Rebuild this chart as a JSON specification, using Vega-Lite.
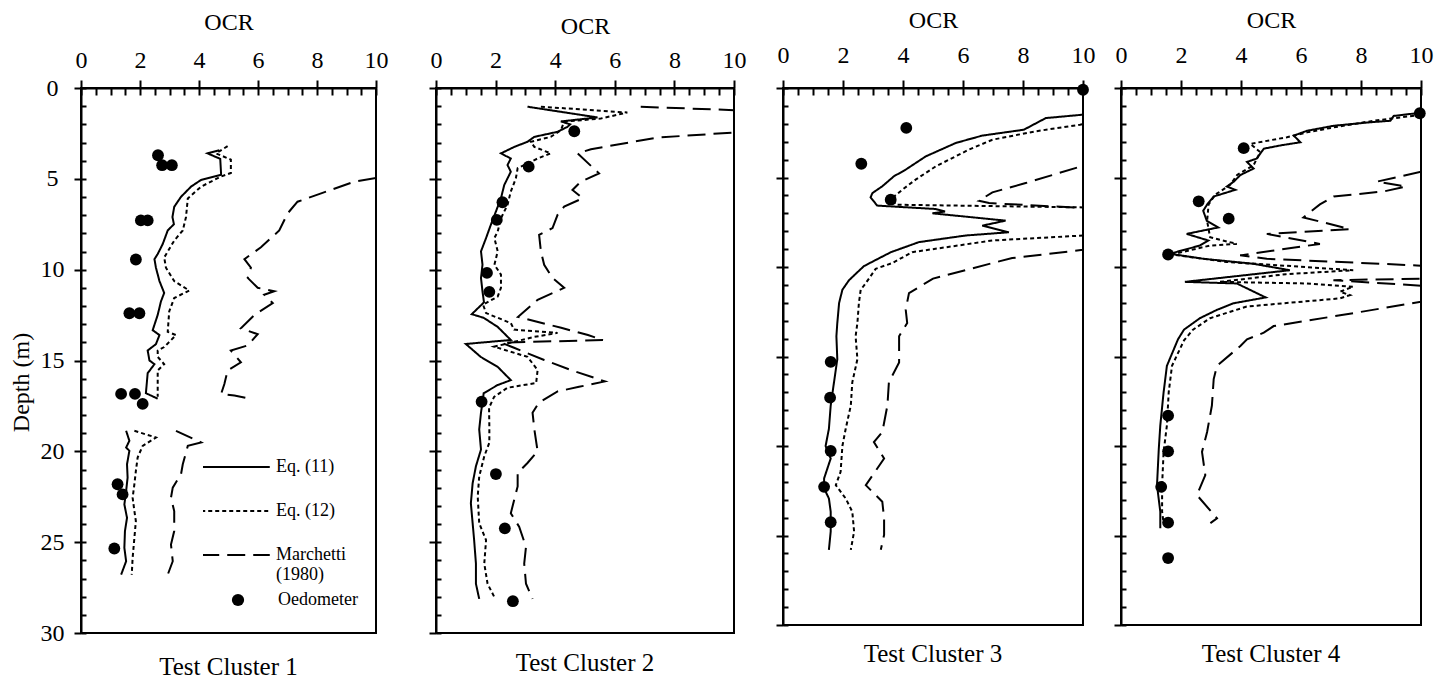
{
  "$schema": "https://vega.github.io/schema/vega-lite/v6.json",
  "background": "white",
  "padding": {"left": 8, "top": 7, "right": 0, "bottom": 0},
  "spacing": 10,
  "config": {
    "font": "Liberation Serif",
    "view": {"stroke": "black", "strokeWidth": 2},
    "axis": {"labelFont": "Liberation Serif", "titleFont": "Liberation Serif", "labelFontSize": 24, "titleFontSize": 24, "titleFontWeight": "normal", "labelColor": "black", "titleColor": "black", "domainColor": "black", "tickColor": "black", "domainWidth": 2, "tickWidth": 2, "grid": false, "labelFlush": false, "labelOverlap": false},
    "title": {"font": "Liberation Serif", "fontSize": 25, "fontWeight": "normal", "color": "black"}
  },
  "datasets": {
    "c1": [
      {"m":"Eq. (11)","s":1,"d":3.42,"o":4.69},{"m":"Eq. (11)","s":1,"d":3.6,"o":4.29},{"m":"Eq. (11)","s":1,"d":3.9,"o":4.72},{"m":"Eq. (11)","s":1,"d":4.78,"o":4.75},{"m":"Eq. (11)","s":1,"d":5.06,"o":4.07},{"m":"Eq. (11)","s":1,"d":5.43,"o":3.73},{"m":"Eq. (11)","s":1,"d":5.99,"o":3.39},{"m":"Eq. (11)","s":1,"d":6.54,"o":3.16},{"m":"Eq. (11)","s":1,"d":7.1,"o":3.1},{"m":"Eq. (11)","s":1,"d":7.5,"o":3.15},{"m":"Eq. (11)","s":1,"d":7.84,"o":2.94},{"m":"Eq. (11)","s":1,"d":8.59,"o":2.77},{"m":"Eq. (11)","s":1,"d":9.14,"o":2.6},{"m":"Eq. (11)","s":1,"d":9.42,"o":2.49},{"m":"Eq. (11)","s":1,"d":9.89,"o":2.54},{"m":"Eq. (11)","s":1,"d":10.63,"o":2.66},{"m":"Eq. (11)","s":1,"d":11.28,"o":2.82},{"m":"Eq. (11)","s":1,"d":11.75,"o":2.71},{"m":"Eq. (11)","s":1,"d":12.49,"o":2.6},{"m":"Eq. (11)","s":1,"d":13.33,"o":2.43},{"m":"Eq. (11)","s":1,"d":13.6,"o":2.66},{"m":"Eq. (11)","s":1,"d":14.1,"o":2.54},{"m":"Eq. (11)","s":1,"d":14.45,"o":2.26},{"m":"Eq. (11)","s":1,"d":15.0,"o":2.32},{"m":"Eq. (11)","s":1,"d":15.2,"o":2.49},{"m":"Eq. (11)","s":1,"d":15.7,"o":2.26},{"m":"Eq. (11)","s":1,"d":16.8,"o":2.2},{"m":"Eq. (11)","s":1,"d":17.1,"o":2.6},
      {"m":"Eq. (11)","s":2,"d":18.87,"o":1.53},{"m":"Eq. (11)","s":2,"d":19.42,"o":1.64},{"m":"Eq. (11)","s":2,"d":19.79,"o":1.53},{"m":"Eq. (11)","s":2,"d":19.97,"o":1.64},{"m":"Eq. (11)","s":2,"d":20.71,"o":1.56},{"m":"Eq. (11)","s":2,"d":21.45,"o":1.58},{"m":"Eq. (11)","s":2,"d":22.18,"o":1.53},{"m":"Eq. (11)","s":2,"d":22.92,"o":1.47},{"m":"Eq. (11)","s":2,"d":23.66,"o":1.56},{"m":"Eq. (11)","s":2,"d":24.39,"o":1.49},{"m":"Eq. (11)","s":2,"d":25.31,"o":1.47},{"m":"Eq. (11)","s":2,"d":26.05,"o":1.53},{"m":"Eq. (11)","s":2,"d":26.79,"o":1.36},
      {"m":"Eq. (12)","s":1,"d":3.2,"o":4.97},{"m":"Eq. (12)","s":1,"d":3.6,"o":4.58},{"m":"Eq. (12)","s":1,"d":3.94,"o":5.08},{"m":"Eq. (12)","s":1,"d":4.68,"o":5.08},{"m":"Eq. (12)","s":1,"d":4.87,"o":4.75},{"m":"Eq. (12)","s":1,"d":5.43,"o":4.07},{"m":"Eq. (12)","s":1,"d":6.08,"o":3.62},{"m":"Eq. (12)","s":1,"d":7.1,"o":3.56},{"m":"Eq. (12)","s":1,"d":7.84,"o":3.45},{"m":"Eq. (12)","s":1,"d":8.4,"o":3.16},{"m":"Eq. (12)","s":1,"d":9.33,"o":2.82},{"m":"Eq. (12)","s":1,"d":9.89,"o":2.88},{"m":"Eq. (12)","s":1,"d":10.63,"o":3.16},{"m":"Eq. (12)","s":1,"d":11.15,"o":3.67},{"m":"Eq. (12)","s":1,"d":11.56,"o":3.16},{"m":"Eq. (12)","s":1,"d":12.3,"o":2.99},{"m":"Eq. (12)","s":1,"d":13.42,"o":2.94},{"m":"Eq. (12)","s":1,"d":13.6,"o":3.22},{"m":"Eq. (12)","s":1,"d":14.26,"o":2.82},{"m":"Eq. (12)","s":1,"d":14.45,"o":2.6},{"m":"Eq. (12)","s":1,"d":14.8,"o":2.6},{"m":"Eq. (12)","s":1,"d":15.2,"o":2.82},{"m":"Eq. (12)","s":1,"d":15.55,"o":2.6},{"m":"Eq. (12)","s":1,"d":17.0,"o":2.6},
      {"m":"Eq. (12)","s":2,"d":18.87,"o":1.81},{"m":"Eq. (12)","s":2,"d":19.24,"o":2.54},{"m":"Eq. (12)","s":2,"d":19.7,"o":2.09},{"m":"Eq. (12)","s":2,"d":20.34,"o":1.92},{"m":"Eq. (12)","s":2,"d":21.08,"o":1.86},{"m":"Eq. (12)","s":2,"d":21.81,"o":1.81},{"m":"Eq. (12)","s":2,"d":22.55,"o":1.75},{"m":"Eq. (12)","s":2,"d":23.29,"o":1.81},{"m":"Eq. (12)","s":2,"d":23.84,"o":1.86},{"m":"Eq. (12)","s":2,"d":24.76,"o":1.81},{"m":"Eq. (12)","s":2,"d":25.87,"o":1.75},{"m":"Eq. (12)","s":2,"d":26.79,"o":1.72},
      {"m":"Marchetti (1980)","s":1,"d":4.96,"o":10},{"m":"Marchetti (1980)","s":1,"d":5.15,"o":9.27},{"m":"Marchetti (1980)","s":1,"d":5.8,"o":8.14},{"m":"Marchetti (1980)","s":1,"d":6.26,"o":7.34},{"m":"Marchetti (1980)","s":1,"d":6.91,"o":7.0},{"m":"Marchetti (1980)","s":1,"d":7.84,"o":6.72},{"m":"Marchetti (1980)","s":1,"d":8.77,"o":6.1},{"m":"Marchetti (1980)","s":1,"d":9.42,"o":5.54},{"m":"Marchetti (1980)","s":1,"d":9.89,"o":5.76},{"m":"Marchetti (1980)","s":1,"d":10.45,"o":5.65},{"m":"Marchetti (1980)","s":1,"d":11.0,"o":5.99},{"m":"Marchetti (1980)","s":1,"d":11.19,"o":6.55},{"m":"Marchetti (1980)","s":1,"d":11.38,"o":6.21},{"m":"Marchetti (1980)","s":1,"d":11.84,"o":6.5},{"m":"Marchetti (1980)","s":1,"d":12.49,"o":5.88},{"m":"Marchetti (1980)","s":1,"d":13.23,"o":5.42},{"m":"Marchetti (1980)","s":1,"d":13.55,"o":5.99},{"m":"Marchetti (1980)","s":1,"d":14.17,"o":5.65},{"m":"Marchetti (1980)","s":1,"d":14.45,"o":5.08},{"m":"Marchetti (1980)","s":1,"d":15.1,"o":5.42},{"m":"Marchetti (1980)","s":1,"d":15.55,"o":4.97},{"m":"Marchetti (1980)","s":1,"d":16.29,"o":4.86},{"m":"Marchetti (1980)","s":1,"d":16.84,"o":4.75},{"m":"Marchetti (1980)","s":1,"d":16.93,"o":5.2},{"m":"Marchetti (1980)","s":1,"d":17.12,"o":5.76},
      {"m":"Marchetti (1980)","s":2,"d":18.87,"o":3.22},{"m":"Marchetti (1980)","s":2,"d":19.51,"o":4.07},{"m":"Marchetti (1980)","s":2,"d":19.7,"o":3.62},{"m":"Marchetti (1980)","s":2,"d":20.71,"o":3.45},{"m":"Marchetti (1980)","s":2,"d":21.26,"o":3.39},{"m":"Marchetti (1980)","s":2,"d":22.0,"o":3.11},{"m":"Marchetti (1980)","s":2,"d":22.55,"o":3.05},{"m":"Marchetti (1980)","s":2,"d":23.29,"o":3.16},{"m":"Marchetti (1980)","s":2,"d":24.39,"o":3.16},{"m":"Marchetti (1980)","s":2,"d":25.13,"o":3.05},{"m":"Marchetti (1980)","s":2,"d":26.05,"o":3.11},{"m":"Marchetti (1980)","s":2,"d":26.79,"o":2.94},
      {"m":"Oedometer","s":0,"d":3.7,"o":2.61},{"m":"Oedometer","s":0,"d":4.25,"o":2.75},{"m":"Oedometer","s":0,"d":4.25,"o":3.08},{"m":"Oedometer","s":0,"d":7.29,"o":2.03},{"m":"Oedometer","s":0,"d":7.29,"o":2.26},{"m":"Oedometer","s":0,"d":9.44,"o":1.86},{"m":"Oedometer","s":0,"d":12.4,"o":1.64},{"m":"Oedometer","s":0,"d":12.4,"o":1.98},{"m":"Oedometer","s":0,"d":16.84,"o":1.36},{"m":"Oedometer","s":0,"d":16.84,"o":1.83},{"m":"Oedometer","s":0,"d":17.39,"o":2.09},{"m":"Oedometer","s":0,"d":21.81,"o":1.24},{"m":"Oedometer","s":0,"d":22.37,"o":1.41},{"m":"Oedometer","s":0,"d":25.35,"o":1.13}
    ],
    "c2": [
      {"m":"Eq. (11)","d":1.03,"o":3.07},{"m":"Eq. (11)","d":1.62,"o":5.42},{"m":"Eq. (11)","d":1.84,"o":4.19},{"m":"Eq. (11)","d":2.0,"o":4.5},{"m":"Eq. (11)","d":2.14,"o":4.41},{"m":"Eq. (11)","d":2.41,"o":4.08},{"m":"Eq. (11)","d":2.69,"o":3.3},{"m":"Eq. (11)","d":2.96,"o":3.07},{"m":"Eq. (11)","d":3.24,"o":2.63},{"m":"Eq. (11)","d":3.6,"o":2.18},{"m":"Eq. (11)","d":3.88,"o":2.51},{"m":"Eq. (11)","d":4.24,"o":2.4},{"m":"Eq. (11)","d":4.61,"o":2.51},{"m":"Eq. (11)","d":5.34,"o":2.29},{"m":"Eq. (11)","d":6.07,"o":2.18},{"m":"Eq. (11)","d":6.8,"o":2.01},{"m":"Eq. (11)","d":7.53,"o":1.84},{"m":"Eq. (11)","d":8.26,"o":1.68},{"m":"Eq. (11)","d":8.99,"o":1.51},{"m":"Eq. (11)","d":9.73,"o":1.56},{"m":"Eq. (11)","d":10.46,"o":1.51},{"m":"Eq. (11)","d":11.19,"o":1.56},{"m":"Eq. (11)","d":11.8,"o":1.61},{"m":"Eq. (11)","d":12.45,"o":1.2},{"m":"Eq. (11)","d":12.65,"o":1.6},{"m":"Eq. (11)","d":13.15,"o":2.07},{"m":"Eq. (11)","d":13.87,"o":2.51},{"m":"Eq. (11)","d":14.09,"o":1.0},{"m":"Eq. (11)","d":14.8,"o":1.5},{"m":"Eq. (11)","d":15.35,"o":2.07},{"m":"Eq. (11)","d":16.08,"o":2.51},{"m":"Eq. (11)","d":16.35,"o":2.07},{"m":"Eq. (11)","d":16.8,"o":1.6},{"m":"Eq. (11)","d":17.3,"o":1.56},{"m":"Eq. (11)","d":17.87,"o":1.51},{"m":"Eq. (11)","d":18.79,"o":1.45},{"m":"Eq. (11)","d":19.9,"o":1.51},{"m":"Eq. (11)","d":20.82,"o":1.34},{"m":"Eq. (11)","d":21.75,"o":1.23},{"m":"Eq. (11)","d":22.86,"o":1.17},{"m":"Eq. (11)","d":23.96,"o":1.23},{"m":"Eq. (11)","d":24.89,"o":1.28},{"m":"Eq. (11)","d":26.18,"o":1.34},{"m":"Eq. (11)","d":27.29,"o":1.34},{"m":"Eq. (11)","d":28.12,"o":1.45},
      {"m":"Eq. (12)","d":1.03,"o":3.52},{"m":"Eq. (12)","d":1.35,"o":6.42},{"m":"Eq. (12)","d":1.68,"o":5.53},{"m":"Eq. (12)","d":1.85,"o":4.3},{"m":"Eq. (12)","d":2.32,"o":4.19},{"m":"Eq. (12)","d":2.69,"o":3.85},{"m":"Eq. (12)","d":2.96,"o":3.18},{"m":"Eq. (12)","d":3.24,"o":3.3},{"m":"Eq. (12)","d":3.6,"o":3.85},{"m":"Eq. (12)","d":3.88,"o":3.41},{"m":"Eq. (12)","d":4.42,"o":2.74},{"m":"Eq. (12)","d":4.97,"o":2.68},{"m":"Eq. (12)","d":5.7,"o":2.51},{"m":"Eq. (12)","d":6.43,"o":2.4},{"m":"Eq. (12)","d":7.17,"o":2.18},{"m":"Eq. (12)","d":7.9,"o":2.07},{"m":"Eq. (12)","d":8.26,"o":1.96},{"m":"Eq. (12)","d":8.99,"o":2.07},{"m":"Eq. (12)","d":9.73,"o":1.96},{"m":"Eq. (12)","d":10.27,"o":2.18},{"m":"Eq. (12)","d":11.0,"o":2.18},{"m":"Eq. (12)","d":11.48,"o":2.07},{"m":"Eq. (12)","d":11.93,"o":1.58},{"m":"Eq. (12)","d":12.39,"o":1.68},{"m":"Eq. (12)","d":12.94,"o":2.51},{"m":"Eq. (12)","d":13.3,"o":2.62},{"m":"Eq. (12)","d":13.48,"o":4.08},{"m":"Eq. (12)","d":13.7,"o":3.3},{"m":"Eq. (12)","d":14.24,"o":1.95},{"m":"Eq. (12)","d":14.8,"o":3.07},{"m":"Eq. (12)","d":15.52,"o":3.41},{"m":"Eq. (12)","d":16.24,"o":3.36},{"m":"Eq. (12)","d":16.5,"o":2.4},{"m":"Eq. (12)","d":17.0,"o":1.95},{"m":"Eq. (12)","d":17.6,"o":1.78},{"m":"Eq. (12)","d":18.6,"o":1.79},{"m":"Eq. (12)","d":19.53,"o":1.79},{"m":"Eq. (12)","d":20.27,"o":1.62},{"m":"Eq. (12)","d":21.38,"o":1.45},{"m":"Eq. (12)","d":22.49,"o":1.4},{"m":"Eq. (12)","d":23.96,"o":1.45},{"m":"Eq. (12)","d":24.89,"o":1.68},{"m":"Eq. (12)","d":26.18,"o":1.62},{"m":"Eq. (12)","d":27.29,"o":1.73},{"m":"Eq. (12)","d":28.03,"o":1.96},
      {"m":"Marchetti (1980)","d":1.03,"o":6.87},{"m":"Marchetti (1980)","d":1.25,"o":10.5},{"m":"Marchetti (1980)","d":1.6,"o":13},{"m":"Marchetti (1980)","d":2.2,"o":13},{"m":"Marchetti (1980)","d":2.45,"o":10},{"m":"Marchetti (1980)","d":2.73,"o":7.43},{"m":"Marchetti (1980)","d":3.37,"o":5.2},{"m":"Marchetti (1980)","d":3.6,"o":4.75},{"m":"Marchetti (1980)","d":4.7,"o":5.47},{"m":"Marchetti (1980)","d":5.16,"o":4.86},{"m":"Marchetti (1980)","d":5.61,"o":4.58},{"m":"Marchetti (1980)","d":6.07,"o":4.92},{"m":"Marchetti (1980)","d":6.53,"o":4.3},{"m":"Marchetti (1980)","d":6.98,"o":4.08},{"m":"Marchetti (1980)","d":7.71,"o":3.91},{"m":"Marchetti (1980)","d":8.08,"o":3.46},{"m":"Marchetti (1980)","d":8.99,"o":3.52},{"m":"Marchetti (1980)","d":9.73,"o":3.63},{"m":"Marchetti (1980)","d":10.46,"o":3.91},{"m":"Marchetti (1980)","d":11.0,"o":4.3},{"m":"Marchetti (1980)","d":11.66,"o":3.41},{"m":"Marchetti (1980)","d":12.3,"o":2.96},{"m":"Marchetti (1980)","d":12.6,"o":2.75},{"m":"Marchetti (1980)","d":13.2,"o":4.2},{"m":"Marchetti (1980)","d":13.6,"o":5.1},{"m":"Marchetti (1980)","d":13.87,"o":5.6},{"m":"Marchetti (1980)","d":14.02,"o":2.2},{"m":"Marchetti (1980)","d":14.3,"o":2.62},{"m":"Marchetti (1980)","d":14.97,"o":3.63},{"m":"Marchetti (1980)","d":15.52,"o":4.52},{"m":"Marchetti (1980)","d":16.15,"o":5.67},{"m":"Marchetti (1980)","d":16.45,"o":4.8},{"m":"Marchetti (1980)","d":16.7,"o":4.08},{"m":"Marchetti (1980)","d":17.33,"o":3.45},{"m":"Marchetti (1980)","d":17.87,"o":3.24},{"m":"Marchetti (1980)","d":18.79,"o":3.3},{"m":"Marchetti (1980)","d":20.0,"o":3.41},{"m":"Marchetti (1980)","d":20.64,"o":3.07},{"m":"Marchetti (1980)","d":21.19,"o":2.74},{"m":"Marchetti (1980)","d":21.93,"o":2.74},{"m":"Marchetti (1980)","d":23.41,"o":2.51},{"m":"Marchetti (1980)","d":24.15,"o":2.79},{"m":"Marchetti (1980)","d":25.26,"o":3.02},{"m":"Marchetti (1980)","d":26.18,"o":2.96},{"m":"Marchetti (1980)","d":27.29,"o":3.02},{"m":"Marchetti (1980)","d":28.12,"o":3.24},
      {"m":"Oedometer","d":2.38,"o":4.64},{"m":"Oedometer","d":4.33,"o":3.11},{"m":"Oedometer","d":6.29,"o":2.23},{"m":"Oedometer","d":7.26,"o":2.04},{"m":"Oedometer","d":10.18,"o":1.71},{"m":"Oedometer","d":11.22,"o":1.79},{"m":"Oedometer","d":17.27,"o":1.53},{"m":"Oedometer","d":21.25,"o":2.01},{"m":"Oedometer","d":24.24,"o":2.31},{"m":"Oedometer","d":28.25,"o":2.58}
    ],
    "c3": [
      {"m":"Eq. (11)","d":1.49,"o":10},{"m":"Eq. (11)","d":1.68,"o":8.76},{"m":"Eq. (11)","d":2.33,"o":8.03},{"m":"Eq. (11)","d":2.66,"o":6.64},{"m":"Eq. (11)","d":3.07,"o":5.76},{"m":"Eq. (11)","d":3.82,"o":4.76},{"m":"Eq. (11)","d":4.56,"o":4.09},{"m":"Eq. (11)","d":4.93,"o":3.7},{"m":"Eq. (11)","d":5.49,"o":3.31},{"m":"Eq. (11)","d":5.87,"o":2.98},{"m":"Eq. (11)","d":6.11,"o":2.92},{"m":"Eq. (11)","d":6.57,"o":3.14},{"m":"Eq. (11)","d":6.76,"o":5.09},{"m":"Eq. (11)","d":6.9,"o":5.4},{"m":"Eq. (11)","d":7.0,"o":4.98},{"m":"Eq. (11)","d":7.41,"o":7.42},{"m":"Eq. (11)","d":7.69,"o":6.64},{"m":"Eq. (11)","d":8.06,"o":7.53},{"m":"Eq. (11)","d":8.24,"o":6.09},{"m":"Eq. (11)","d":8.61,"o":4.53},{"m":"Eq. (11)","d":9.17,"o":3.6},{"m":"Eq. (11)","d":9.6,"o":3.1},{"m":"Eq. (11)","d":9.95,"o":2.7},{"m":"Eq. (11)","d":10.34,"o":2.45},{"m":"Eq. (11)","d":10.74,"o":2.2},{"m":"Eq. (11)","d":11.27,"o":1.98},{"m":"Eq. (11)","d":12.01,"o":1.87},{"m":"Eq. (11)","d":13.13,"o":1.81},{"m":"Eq. (11)","d":13.87,"o":1.78},{"m":"Eq. (11)","d":15.15,"o":1.81},{"m":"Eq. (11)","d":16.44,"o":1.7},{"m":"Eq. (11)","d":17.74,"o":1.59},{"m":"Eq. (11)","d":19.04,"o":1.53},{"m":"Eq. (11)","d":20.0,"o":1.42},{"m":"Eq. (11)","d":20.7,"o":1.59},{"m":"Eq. (11)","d":21.81,"o":1.37},{"m":"Eq. (11)","d":22.37,"o":1.37},{"m":"Eq. (11)","d":22.93,"o":1.53},{"m":"Eq. (11)","d":23.67,"o":1.59},{"m":"Eq. (11)","d":24.78,"o":1.59},{"m":"Eq. (11)","d":25.8,"o":1.53},
      {"m":"Eq. (12)","d":1.95,"o":10.2},{"m":"Eq. (12)","d":2.05,"o":9.9},{"m":"Eq. (12)","d":2.42,"o":8.42},{"m":"Eq. (12)","d":2.89,"o":6.98},{"m":"Eq. (12)","d":3.44,"o":6.2},{"m":"Eq. (12)","d":4.38,"o":5.09},{"m":"Eq. (12)","d":5.12,"o":4.42},{"m":"Eq. (12)","d":5.68,"o":3.98},{"m":"Eq. (12)","d":6.15,"o":3.64},{"m":"Eq. (12)","d":6.52,"o":3.76},{"m":"Eq. (12)","d":6.67,"o":10},{"m":"Eq. (12)","d":7.4,"o":14},{"m":"Eq. (12)","d":8.24,"o":10},{"m":"Eq. (12)","d":8.52,"o":6.98},{"m":"Eq. (12)","d":9.17,"o":4.31},{"m":"Eq. (12)","d":9.78,"o":3.64},{"m":"Eq. (12)","d":10.1,"o":3.09},{"m":"Eq. (12)","d":10.9,"o":2.76},{"m":"Eq. (12)","d":11.27,"o":2.59},{"m":"Eq. (12)","d":12.01,"o":2.53},{"m":"Eq. (12)","d":13.13,"o":2.48},{"m":"Eq. (12)","d":13.87,"o":2.42},{"m":"Eq. (12)","d":15.15,"o":2.48},{"m":"Eq. (12)","d":16.44,"o":2.31},{"m":"Eq. (12)","d":17.74,"o":2.26},{"m":"Eq. (12)","d":19.04,"o":2.09},{"m":"Eq. (12)","d":20.0,"o":1.98},{"m":"Eq. (12)","d":21.44,"o":1.92},{"m":"Eq. (12)","d":22.19,"o":1.76},{"m":"Eq. (12)","d":22.93,"o":2.09},{"m":"Eq. (12)","d":23.67,"o":2.31},{"m":"Eq. (12)","d":24.78,"o":2.37},{"m":"Eq. (12)","d":25.8,"o":2.26},
      {"m":"Marchetti (1980)","d":4.45,"o":9.8},{"m":"Marchetti (1980)","d":5.31,"o":8.09},{"m":"Marchetti (1980)","d":5.83,"o":6.98},{"m":"Marchetti (1980)","d":6.3,"o":6.53},{"m":"Marchetti (1980)","d":6.43,"o":6.87},{"m":"Marchetti (1980)","d":6.7,"o":10},{"m":"Marchetti (1980)","d":7.8,"o":14},{"m":"Marchetti (1980)","d":9.04,"o":10},{"m":"Marchetti (1980)","d":9.5,"o":7.64},{"m":"Marchetti (1980)","d":9.78,"o":6.98},{"m":"Marchetti (1980)","d":10.65,"o":5.0},{"m":"Marchetti (1980)","d":11.46,"o":4.2},{"m":"Marchetti (1980)","d":12.38,"o":4.09},{"m":"Marchetti (1980)","d":13.13,"o":4.14},{"m":"Marchetti (1980)","d":13.87,"o":3.87},{"m":"Marchetti (1980)","d":15.33,"o":3.87},{"m":"Marchetti (1980)","d":16.44,"o":3.53},{"m":"Marchetti (1980)","d":17.74,"o":3.48},{"m":"Marchetti (1980)","d":19.22,"o":3.31},{"m":"Marchetti (1980)","d":19.78,"o":3.03},{"m":"Marchetti (1980)","d":20.7,"o":3.37},{"m":"Marchetti (1980)","d":22.19,"o":2.76},{"m":"Marchetti (1980)","d":23.11,"o":3.31},{"m":"Marchetti (1980)","d":24.04,"o":3.37},{"m":"Marchetti (1980)","d":24.96,"o":3.37},{"m":"Marchetti (1980)","d":25.8,"o":3.26},
      {"m":"Oedometer","d":0.1,"o":10},{"m":"Oedometer","d":2.23,"o":4.11},{"m":"Oedometer","d":4.23,"o":2.61},{"m":"Oedometer","d":6.24,"o":3.59},{"m":"Oedometer","d":15.3,"o":1.59},{"m":"Oedometer","d":17.3,"o":1.57},{"m":"Oedometer","d":20.28,"o":1.59},{"m":"Oedometer","d":22.28,"o":1.37},{"m":"Oedometer","d":24.26,"o":1.59}
    ],
    "c4": [
      {"m":"Eq. (11)","d":1.38,"o":10},{"m":"Eq. (11)","d":1.56,"o":9.09},{"m":"Eq. (11)","d":1.83,"o":8.98},{"m":"Eq. (11)","d":1.93,"o":8.2},{"m":"Eq. (11)","d":2.11,"o":7.09},{"m":"Eq. (11)","d":2.39,"o":6.2},{"m":"Eq. (11)","d":2.66,"o":5.76},{"m":"Eq. (11)","d":3.03,"o":5.98},{"m":"Eq. (11)","d":3.21,"o":5.31},{"m":"Eq. (11)","d":3.39,"o":4.76},{"m":"Eq. (11)","d":3.67,"o":4.64},{"m":"Eq. (11)","d":3.94,"o":4.53},{"m":"Eq. (11)","d":4.13,"o":4.2},{"m":"Eq. (11)","d":4.5,"o":4.42},{"m":"Eq. (11)","d":4.86,"o":3.98},{"m":"Eq. (11)","d":5.23,"o":3.76},{"m":"Eq. (11)","d":5.5,"o":3.53},{"m":"Eq. (11)","d":5.69,"o":3.81},{"m":"Eq. (11)","d":6.06,"o":3.09},{"m":"Eq. (11)","d":6.51,"o":2.87},{"m":"Eq. (11)","d":6.86,"o":2.74},{"m":"Eq. (11)","d":7.42,"o":2.86},{"m":"Eq. (11)","d":7.79,"o":3.24},{"m":"Eq. (11)","d":8.15,"o":2.19},{"m":"Eq. (11)","d":8.52,"o":2.91},{"m":"Eq. (11)","d":8.8,"o":2.63},{"m":"Eq. (11)","d":9.26,"o":1.63},{"m":"Eq. (11)","d":9.54,"o":2.74},{"m":"Eq. (11)","d":9.82,"o":4.41},{"m":"Eq. (11)","d":10.18,"o":5.63},{"m":"Eq. (11)","d":10.83,"o":2.13},{"m":"Eq. (11)","d":10.92,"o":3.86},{"m":"Eq. (11)","d":11.7,"o":4.82},{"m":"Eq. (11)","d":12.03,"o":3.74},{"m":"Eq. (11)","d":12.4,"o":3.19},{"m":"Eq. (11)","d":12.86,"o":2.63},{"m":"Eq. (11)","d":13.5,"o":2.1},{"m":"Eq. (11)","d":14.04,"o":1.9},{"m":"Eq. (11)","d":15.52,"o":1.53},{"m":"Eq. (11)","d":17.0,"o":1.42},{"m":"Eq. (11)","d":18.85,"o":1.31},{"m":"Eq. (11)","d":20.15,"o":1.26},{"m":"Eq. (11)","d":22.19,"o":1.2},{"m":"Eq. (11)","d":23.67,"o":1.31},{"m":"Eq. (11)","d":24.59,"o":1.31},
      {"m":"Eq. (12)","d":1.5,"o":10},{"m":"Eq. (12)","d":1.83,"o":8.42},{"m":"Eq. (12)","d":2.2,"o":7.09},{"m":"Eq. (12)","d":2.48,"o":6.2},{"m":"Eq. (12)","d":2.75,"o":5.53},{"m":"Eq. (12)","d":3.12,"o":4.31},{"m":"Eq. (12)","d":3.58,"o":4.64},{"m":"Eq. (12)","d":4.31,"o":4.42},{"m":"Eq. (12)","d":4.86,"o":3.87},{"m":"Eq. (12)","d":5.41,"o":3.64},{"m":"Eq. (12)","d":5.96,"o":3.14},{"m":"Eq. (12)","d":6.51,"o":2.92},{"m":"Eq. (12)","d":7.43,"o":2.87},{"m":"Eq. (12)","d":8.34,"o":2.97},{"m":"Eq. (12)","d":8.71,"o":3.86},{"m":"Eq. (12)","d":8.8,"o":2.97},{"m":"Eq. (12)","d":9.3,"o":1.7},{"m":"Eq. (12)","d":9.72,"o":3.52},{"m":"Eq. (12)","d":9.91,"o":5.3},{"m":"Eq. (12)","d":10.18,"o":7.74},{"m":"Eq. (12)","d":10.4,"o":5.5},{"m":"Eq. (12)","d":10.83,"o":3.3},{"m":"Eq. (12)","d":10.92,"o":6.19},{"m":"Eq. (12)","d":11.1,"o":7.74},{"m":"Eq. (12)","d":11.38,"o":7.3},{"m":"Eq. (12)","d":11.57,"o":7.63},{"m":"Eq. (12)","d":11.75,"o":7.3},{"m":"Eq. (12)","d":12.21,"o":4.19},{"m":"Eq. (12)","d":12.86,"o":2.97},{"m":"Eq. (12)","d":13.5,"o":2.4},{"m":"Eq. (12)","d":14.1,"o":2.1},{"m":"Eq. (12)","d":15.52,"o":1.7},{"m":"Eq. (12)","d":17.0,"o":1.59},{"m":"Eq. (12)","d":18.85,"o":1.53},{"m":"Eq. (12)","d":20.33,"o":1.42},{"m":"Eq. (12)","d":22.19,"o":1.37},{"m":"Eq. (12)","d":23.67,"o":1.37},{"m":"Eq. (12)","d":24.31,"o":1.42},
      {"m":"Marchetti (1980)","d":4.68,"o":10},{"m":"Marchetti (1980)","d":5.23,"o":8.53},{"m":"Marchetti (1980)","d":5.5,"o":9.5},{"m":"Marchetti (1980)","d":5.78,"o":8.76},{"m":"Marchetti (1980)","d":6.06,"o":7.09},{"m":"Marchetti (1980)","d":6.5,"o":6.63},{"m":"Marchetti (1980)","d":7.23,"o":6.08},{"m":"Marchetti (1980)","d":7.88,"o":7.63},{"m":"Marchetti (1980)","d":8.15,"o":4.86},{"m":"Marchetti (1980)","d":8.71,"o":6.63},{"m":"Marchetti (1980)","d":9.35,"o":3.97},{"m":"Marchetti (1980)","d":9.54,"o":4.86},{"m":"Marchetti (1980)","d":9.91,"o":9.86},{"m":"Marchetti (1980)","d":10.2,"o":12},{"m":"Marchetti (1980)","d":10.65,"o":10},{"m":"Marchetti (1980)","d":10.74,"o":7.08},{"m":"Marchetti (1980)","d":11.1,"o":10.5},{"m":"Marchetti (1980)","d":11.5,"o":12},{"m":"Marchetti (1980)","d":11.94,"o":10},{"m":"Marchetti (1980)","d":12.58,"o":7.74},{"m":"Marchetti (1980)","d":13.3,"o":5.09},{"m":"Marchetti (1980)","d":13.67,"o":4.76},{"m":"Marchetti (1980)","d":14.04,"o":4.2},{"m":"Marchetti (1980)","d":14.41,"o":3.98},{"m":"Marchetti (1980)","d":15.52,"o":3.2},{"m":"Marchetti (1980)","d":16.26,"o":3.09},{"m":"Marchetti (1980)","d":17.74,"o":3.03},{"m":"Marchetti (1980)","d":19.22,"o":2.87},{"m":"Marchetti (1980)","d":20.33,"o":2.7},{"m":"Marchetti (1980)","d":21.63,"o":2.81},{"m":"Marchetti (1980)","d":22.74,"o":2.53},{"m":"Marchetti (1980)","d":24.04,"o":3.2},{"m":"Marchetti (1980)","d":24.31,"o":2.98},
      {"m":"Oedometer","d":1.41,"o":9.96},{"m":"Oedometer","d":3.36,"o":4.09},{"m":"Oedometer","d":6.33,"o":2.59},{"m":"Oedometer","d":7.3,"o":3.59},{"m":"Oedometer","d":9.3,"o":1.57},{"m":"Oedometer","d":18.3,"o":1.57},{"m":"Oedometer","d":20.3,"o":1.57},{"m":"Oedometer","d":22.28,"o":1.34},{"m":"Oedometer","d":24.28,"o":1.57},{"m":"Oedometer","d":26.26,"o":1.57}
    ]
  },
  "hconcat": [
    {
      "width": 295, "height": 545,
      "data": {"name": "c1"},
      "title": {"text": "Test Cluster 1", "orient": "bottom", "offset": 10, "frame": "group", "anchor": "middle"},
      "layer": [
        {
          "transform": [{"filter": "datum.m != 'Oedometer'"}],
          "mark": {"type": "line", "clip": true, "strokeWidth": 2, "color": "black"},
          "encoding": {
            "x": {"field": "o", "type": "quantitative", "scale": {"domain": [0, 10], "nice": false, "zero": false}, "axis": {"orient": "top", "values": [0, 2, 4, 6, 8, 10], "title": "OCR", "tickSize": 8, "labelPadding": 8, "titlePadding": 14}},
            "y": {"field": "d", "type": "quantitative", "scale": {"domain": [0, 30], "reverse": true, "nice": false}, "axis": {"values": [0, 5, 10, 15, 20, 25, 30], "title": "Depth (m)", "tickSize": 7, "labelAlign": "center", "labelPadding": 22, "titlePadding": 7, "titleY": 294}},
            "strokeDash": {"field": "m", "type": "nominal", "scale": {"domain": ["Eq. (11)", "Eq. (12)", "Marchetti (1980)"], "range": [[1, 0], [4, 3], [18, 8]]},
              "legend": {"orient": "none", "legendX": 122, "legendY": 367, "title": null, "symbolType": "stroke", "symbolSize": 4700, "symbolStrokeWidth": 2, "symbolStrokeColor": "black", "labelFont": "Liberation Serif", "labelFontSize": 18, "labelColor": "black", "labelOffset": 5, "symbolOffset": -3, "clipHeight": 24, "rowPadding": 20, "padding": 0,
                "labelExpr": "datum.value == 'Marchetti (1980)' ? ['Marchetti', '(1980)'] : datum.label",
                "encode": {
                  "symbols": {"update": {"shape": {"value": "stroke"}, "size": {"signal": "datum.value == 'Oedometer' ? 150 : 4700"}, "fill": {"value": "transparent"}, "strokeWidth": {"value": 2}, "stroke": {"value": "black"}}}
                }}},
            "detail": {"field": "s", "type": "nominal"},
            "order": {"field": "d", "type": "quantitative"}
          }
        },
        {
          "transform": [{"filter": "datum.m == 'Oedometer'"}],
          "mark": {"type": "point", "filled": true, "size": 140, "color": "black", "opacity": 1, "strokeWidth": 0},
          "encoding": {
            "x": {"field": "o", "type": "quantitative", "axis": {"orient": "top", "values": [0,0.5,1,1.5,2,2.5,3,3.5,4,4.5,5,5.5,6,6.5,7,7.5,8,8.5,9,9.5,10], "labels": false, "title": null, "domain": false, "tickSize": -7}},
            "y": {"field": "d", "type": "quantitative", "axis": {"orient": "left", "values": [0,1,2,3,4,5,6,7,8,9,10,11,12,13,14,15,16,17,18,19,20,21,22,23,24,25,26,27,28,29,30], "labels": false, "title": null, "domain": false, "tickSize": -5}},
            "shape": {"field": "m", "type": "nominal", "scale": {"domain": ["Oedometer"], "range": ["circle"]},
              "legend": {"orient": "none", "legendX": 122, "legendY": 503, "title": null, "symbolSize": 150, "symbolFillColor": "black", "symbolStrokeWidth": 0, "labelFont": "Liberation Serif", "labelFontSize": 18, "labelColor": "black", "labelOffset": 31, "symbolOffset": 26, "padding": 0}}
          }
        }
      ],
      "resolve": {"axis": {"x": "independent", "y": "independent"}}
    },
    {
      "width": 298, "height": 545,
      "data": {"name": "c2"},
      "title": {"text": "Test Cluster 2", "orient": "bottom", "offset": 17, "frame": "group", "anchor": "middle"},
      "layer": [
        {
          "transform": [{"filter": "datum.m != 'Oedometer'"}],
          "mark": {"type": "line", "clip": true, "strokeWidth": 2, "color": "black"},
          "encoding": {
            "x": {"field": "o", "type": "quantitative", "scale": {"domain": [0, 10], "nice": false, "zero": false}, "axis": {"orient": "top", "values": [0, 2, 4, 6, 8, 10], "title": "OCR", "tickSize": 8, "labelPadding": 8, "titlePadding": 10}},
            "y": {"field": "d", "type": "quantitative", "scale": {"domain": [0, 30], "reverse": true, "nice": false}, "axis": {"values": [0, 5, 10, 15, 20, 25, 30], "labels": false, "title": null, "tickSize": 7, "minExtent": 36}},
            "strokeDash": {"field": "m", "type": "nominal", "scale": {"domain": ["Eq. (11)", "Eq. (12)", "Marchetti (1980)"], "range": [[1, 0], [4, 3], [18, 8]]}, "legend": null},
            "order": {"field": "d", "type": "quantitative"}
          }
        },
        {
          "transform": [{"filter": "datum.m == 'Oedometer'"}],
          "mark": {"type": "point", "filled": true, "size": 140, "color": "black", "opacity": 1, "strokeWidth": 0},
          "encoding": {
            "x": {"field": "o", "type": "quantitative", "axis": {"orient": "top", "values": [0,0.5,1,1.5,2,2.5,3,3.5,4,4.5,5,5.5,6,6.5,7,7.5,8,8.5,9,9.5,10], "labels": false, "title": null, "domain": false, "tickSize": -7}},
            "y": {"field": "d", "type": "quantitative", "axis": {"orient": "left", "values": [0,1,2,3,4,5,6,7,8,9,10,11,12,13,14,15,16,17,18,19,20,21,22,23,24,25,26,27,28,29,30], "labels": false, "title": null, "domain": false, "tickSize": -5}}
          }
        }
      ],
      "resolve": {"axis": {"x": "independent", "y": "independent"}}
    },
    {
      "width": 300, "height": 537,
      "data": {"name": "c3"},
      "title": {"text": "Test Cluster 3", "orient": "bottom", "offset": 16, "frame": "group", "anchor": "middle"},
      "layer": [
        {
          "transform": [{"filter": "datum.m != 'Oedometer'"}],
          "mark": {"type": "line", "clip": true, "strokeWidth": 2, "color": "black"},
          "encoding": {
            "x": {"field": "o", "type": "quantitative", "scale": {"domain": [0, 10], "nice": false, "zero": false}, "axis": {"orient": "top", "values": [0, 2, 4, 6, 8, 10], "title": "OCR", "tickSize": 8, "labelPadding": 13, "titlePadding": 11}},
            "y": {"field": "d", "type": "quantitative", "scale": {"domain": [0, 30], "reverse": true, "nice": false}, "axis": {"values": [0, 5, 10, 15, 20, 25, 30], "labels": false, "title": null, "tickSize": 7, "minExtent": 25}},
            "strokeDash": {"field": "m", "type": "nominal", "scale": {"domain": ["Eq. (11)", "Eq. (12)", "Marchetti (1980)"], "range": [[1, 0], [4, 3], [18, 8]]}, "legend": null},
            "order": {"field": "d", "type": "quantitative"}
          }
        },
        {
          "transform": [{"filter": "datum.m == 'Oedometer'"}],
          "mark": {"type": "point", "filled": true, "size": 140, "color": "black", "opacity": 1, "strokeWidth": 0},
          "encoding": {
            "x": {"field": "o", "type": "quantitative", "axis": {"orient": "top", "values": [0,0.5,1,1.5,2,2.5,3,3.5,4,4.5,5,5.5,6,6.5,7,7.5,8,8.5,9,9.5,10], "labels": false, "title": null, "domain": false, "tickSize": -7}},
            "y": {"field": "d", "type": "quantitative", "axis": {"orient": "left", "values": [0,1,2,3,4,5,6,7,8,9,10,11,12,13,14,15,16,17,18,19,20,21,22,23,24,25,26,27,28,29,30], "labels": false, "title": null, "domain": false, "tickSize": -5}}
          }
        }
      ],
      "resolve": {"axis": {"x": "independent", "y": "independent"}}
    },
    {
      "width": 300, "height": 537,
      "data": {"name": "c4"},
      "title": {"text": "Test Cluster 4", "orient": "bottom", "offset": 16, "frame": "group", "anchor": "middle"},
      "layer": [
        {
          "transform": [{"filter": "datum.m != 'Oedometer'"}],
          "mark": {"type": "line", "clip": true, "strokeWidth": 2, "color": "black"},
          "encoding": {
            "x": {"field": "o", "type": "quantitative", "scale": {"domain": [0, 10], "nice": false, "zero": false}, "axis": {"orient": "top", "values": [0, 2, 4, 6, 8, 10], "title": "OCR", "tickSize": 8, "labelPadding": 13, "titlePadding": 11}},
            "y": {"field": "d", "type": "quantitative", "scale": {"domain": [0, 30], "reverse": true, "nice": false}, "axis": {"values": [0, 5, 10, 15, 20, 25, 30], "labels": false, "title": null, "tickSize": 7, "minExtent": 14}},
            "strokeDash": {"field": "m", "type": "nominal", "scale": {"domain": ["Eq. (11)", "Eq. (12)", "Marchetti (1980)"], "range": [[1, 0], [4, 3], [18, 8]]}, "legend": null},
            "order": {"field": "d", "type": "quantitative"}
          }
        },
        {
          "transform": [{"filter": "datum.m == 'Oedometer'"}],
          "mark": {"type": "point", "filled": true, "size": 140, "color": "black", "opacity": 1, "strokeWidth": 0},
          "encoding": {
            "x": {"field": "o", "type": "quantitative", "axis": {"orient": "top", "values": [0,0.5,1,1.5,2,2.5,3,3.5,4,4.5,5,5.5,6,6.5,7,7.5,8,8.5,9,9.5,10], "labels": false, "title": null, "domain": false, "tickSize": -7}},
            "y": {"field": "d", "type": "quantitative", "axis": {"orient": "left", "values": [0,1,2,3,4,5,6,7,8,9,10,11,12,13,14,15,16,17,18,19,20,21,22,23,24,25,26,27,28,29,30], "labels": false, "title": null, "domain": false, "tickSize": -5}}
          }
        }
      ],
      "resolve": {"axis": {"x": "independent", "y": "independent"}}
    }
  ]
}
